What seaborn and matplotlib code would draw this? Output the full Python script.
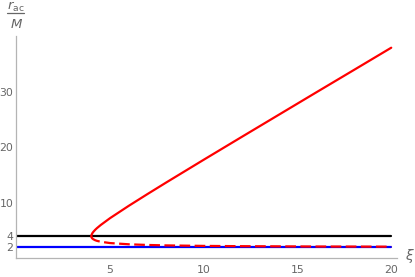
import matplotlib
matplotlib.use('Agg')
import matplotlib.pyplot as plt
import seaborn as sns
import pandas as pd
from matplotlib.lines import Line2D

# values
xi_branch = [4.0, 4.01, 4.05, 4.1, 4.2, 4.3, 4.5, 5, 6, 7, 8, 10, 12, 14, 16, 18, 20]
r_upper = [4.0, 4.2, 4.5, 4.74, 5.12, 5.44, 6.0, 7.24, 9.46, 11.58, 13.66,
           17.75, 21.8, 25.83, 29.86, 33.87, 37.89]
r_lower = [4.0, 3.8, 3.6, 3.46, 3.28, 3.16, 3.0, 2.76, 2.54, 2.42, 2.34,
           2.25, 2.2, 2.17, 2.14, 2.13, 2.11]
xi_flat = [0, 20]
r_black = [4, 4]
r_blue = [2, 2]

x_ticks = [5, 10, 15, 20]
y_ticks = [2, 4, 10, 20, 30]

GRAY = '#b4b4b4'
TEXT = '#666666'

sns.set_style('white')
fig = plt.figure(figsize=(4.15, 2.77), dpi=100)
ax = fig.add_axes([0.0393, 0.0671, 0.917, 0.803])

upper = pd.DataFrame({'xi': xi_branch, 'r': r_upper})
lower = pd.DataFrame({'xi': xi_branch, 'r': r_lower})
flat = pd.DataFrame({'xi': xi_flat, 'black': r_black, 'blue': r_blue})

sns.lineplot(data=flat, x='xi', y='black', ax=ax, color='black', lw=1.6)
sns.lineplot(data=flat, x='xi', y='blue', ax=ax, color='#0000ff', lw=1.6)
sns.lineplot(data=upper, x='xi', y='r', ax=ax, color='#ff0000', lw=1.6,
             sort=False, estimator=None)
sns.lineplot(data=lower, x='xi', y='r', ax=ax, color='#ff0000', lw=1.6,
             sort=False, estimator=None, linestyle=(0, (4.8, 2)))

ax.set_xlim(0, 20.3)
ax.set_ylim(0, 40)
ax.set_xticks(x_ticks)
ax.set_yticks(y_ticks)
ax.set_xlabel('')
ax.set_ylabel('')

for side in ['top', 'right']:
    ax.spines[side].set_visible(False)
for side in ['left', 'bottom']:
    ax.spines[side].set_color(GRAY)
    ax.spines[side].set_linewidth(0.9)

ax.tick_params(direction='in', length=3, width=0.8, color=GRAY,
               labelcolor=TEXT, labelsize=7.8, pad=2)
ax.tick_params(axis='x', pad=5)

# axis labels, Mathematica style
fig.text(0.988, 0.075, r'$\xi$', color=TEXT, fontsize=10, ha='center', va='center')
fig.text(0.039, 0.975, r'$r_{\mathrm{ac}}$', color=TEXT, fontsize=9.5, ha='center', va='center')
fig.add_artist(Line2D([0.017, 0.058], [0.953, 0.953], color=TEXT, lw=0.9))
fig.text(0.039, 0.913, r'$M$', color=TEXT, fontsize=9.5, ha='center', va='center')

fig.savefig('out.png', dpi=100)
